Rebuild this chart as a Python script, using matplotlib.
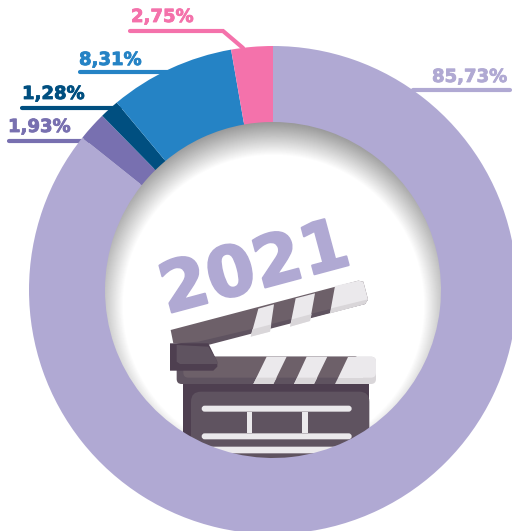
import numpy as np
import matplotlib
matplotlib.use("Agg")
import matplotlib.pyplot as plt
import matplotlib.patheffects as pe
from matplotlib.patches import Polygon, FancyBboxPatch, Circle

W, H = 512, 531
values = [85.73, 1.93, 1.28, 8.31, 2.75]
labels = ["85,73%", "1,93%", "1,28%", "8,31%", "2,75%"]
colors = ["#b0a9d3", "#7870b0", "#004f80", "#2583c5", "#f472ab"]
year = "2021"

fig = plt.figure(figsize=(W / 100, H / 100), dpi=100)
ax = fig.add_axes([0, 0, 1, 1])
ax.set_xlim(0, W)
ax.set_ylim(0, H)
ax.axis("off")

def P(x, y):
    return (x, H - y)

def Z(pts):
    return [P(130 + a / 3, 210 + b / 3) for a, b in pts]

cx, cy, R, r = 273, 290, 244, 168

# inner disc with soft shadow
yy, xx = np.mgrid[0:H, 0:W]
d = np.hypot(xx - cx, yy - 305)
shade = 1 - np.clip((d - 150) / 33 * 0.4, 0, 0.5)
im = ax.imshow(shade, cmap="gray", vmin=0, vmax=1, extent=(0, W, 0, H), zorder=1,
               interpolation="bilinear", aspect="auto")
im.set_clip_path(Circle(P(cx, cy), r + 2, transform=ax.transData))
ax.set_xlim(0, W)
ax.set_ylim(0, H)

def poly(pts, c, z=2):
    ax.add_patch(Polygon(Z(pts), closed=True, fc=c, ec="none", zorder=z))

def rbox(x0, y0, x1, y1, c, z=2, rad=2):
    (a, b), (e, f) = Z([(x0, y1), (x1, y0)])
    ax.add_patch(FancyBboxPatch((a, b), e - a, f - b, boxstyle=f"round,pad=0,rounding_size={rad}",
                                fc=c, ec="none", zorder=z))

DARK, MID, ARM, LIGHT, LIGHT2 = "#4e3f50", "#5f5360", "#6d6069", "#ebe9ec", "#d9d6d9"

# board body
poly([(160, 520), (718, 520), (718, 760), (160, 760)], DARK, 2)
rbox(183, 545, 718, 760, MID, 2.1, 10)
for y0, y1, x0, x1 in [(587, 605, 215, 665), (670, 688, 215, 665), (710, 730, 215, 665)]:
    rbox(x0, y0, x1, y1, LIGHT, 2.2, 3)
for x0, x1 in [(350, 367), (515, 533)]:
    poly([(x0, 605), (x1, 605), (x1, 670), (x0, 670)], LIGHT, 2.2)

# lower arm
rbox(140, 440, 690, 522, MID, 2.3, 5)
rbox(160, 440, 690, 503, ARM, 2.4, 5)
rbox(670, 440, 738, 522, LIGHT2, 2.45, 5)
rbox(670, 440, 738, 503, LIGHT, 2.46, 5)
poly([(655, 440), (700, 440), (700, 503), (624, 503)], LIGHT, 2.5)
poly([(624, 503), (700, 503), (700, 522), (615, 522)], LIGHT2, 2.6)
for t0, t1, b0, b1 in [(410, 470, 370, 430), (530, 592, 492, 552)]:
    poly([(t0, 440), (t1, 440), (b1, 522), (b0, 522)], LIGHT, 2.5)
    poly([(b0 + 10, 503), (b1 + 10, 503), (b1, 522), (b0, 522)], LIGHT2, 2.6)

# upper arm
poly([(122, 360), (685, 212), (700, 215), (714, 268), (705, 282), (215, 405), (130, 400)], ARM, 2.5)
poly([(205, 395), (362, 358), (714, 268), (705, 282), (215, 410), (140, 400)], MID, 2.6)
for q in ([(385, 296), (432, 283), (420, 365), (362, 380)],
          [(497, 265), (555, 250), (540, 333), (480, 350)],
          [(615, 228), (685, 212), (700, 215), (714, 268), (705, 282), (600, 310)]):
    poly(q, LIGHT, 2.7)
poly([(367, 358), (424, 343), (420, 365), (362, 380)], LIGHT2, 2.8)
poly([(486, 328), (545, 312), (540, 333), (480, 350)], LIGHT2, 2.8)
poly([(604, 295), (714, 268), (705, 282), (600, 310)], LIGHT2, 2.8)

# hinge
poly([(120, 400), (235, 400), (262, 455), (262, 470), (250, 482), (120, 482)], DARK, 3)
poly([(140, 405), (235, 410), (260, 450), (262, 462), (150, 462), (140, 455)], MID, 3.1)

# donut
wedges, _ = ax.pie(values, colors=colors, startangle=90, counterclock=False,
                   center=P(cx, cy), radius=R, frame=True,
                   wedgeprops=dict(width=R - r, linewidth=0))
for w in wedges:
    w.set_zorder(4)
    w.set_clip_on(True)
ax.set_xlim(0, W)
ax.set_ylim(0, H)
ax.set_aspect("auto")
ax.axis("off")

# leaders and labels
leaders = [
    [(413, 90), (510, 90)],
    [(9, 141), (90, 141)],
    [(22, 108), (120, 108)],
    [(80, 72), (172, 72)],
    [(130, 31), (223, 31), (243, 48)],
]
text_pos = [(432, 77), (8, 127), (22, 94), (79, 60), (131, 17)]
for pts, lab, c, tp in zip(leaders, labels, colors, text_pos):
    xs, ys = zip(*[P(*p) for p in pts])
    ax.plot(xs, ys, color=c, lw=3, solid_capstyle="round", solid_joinstyle="miter", zorder=3)
    ax.text(*P(*tp), lab, color=c, fontsize=13, fontweight="bold", family="DejaVu Sans",
            ha="left", va="center", zorder=6,
            path_effects=[pe.withStroke(linewidth=0.6, foreground=c)])

ax.text(*P(255, 270), year, color=colors[0], fontsize=50, fontweight="bold", family="DejaVu Sans",
        ha="center", va="center", rotation=15, rotation_mode="anchor", zorder=3.5,
        path_effects=[pe.withStroke(linewidth=1.5, foreground=colors[0])])

fig.savefig("out.png", dpi=100)
